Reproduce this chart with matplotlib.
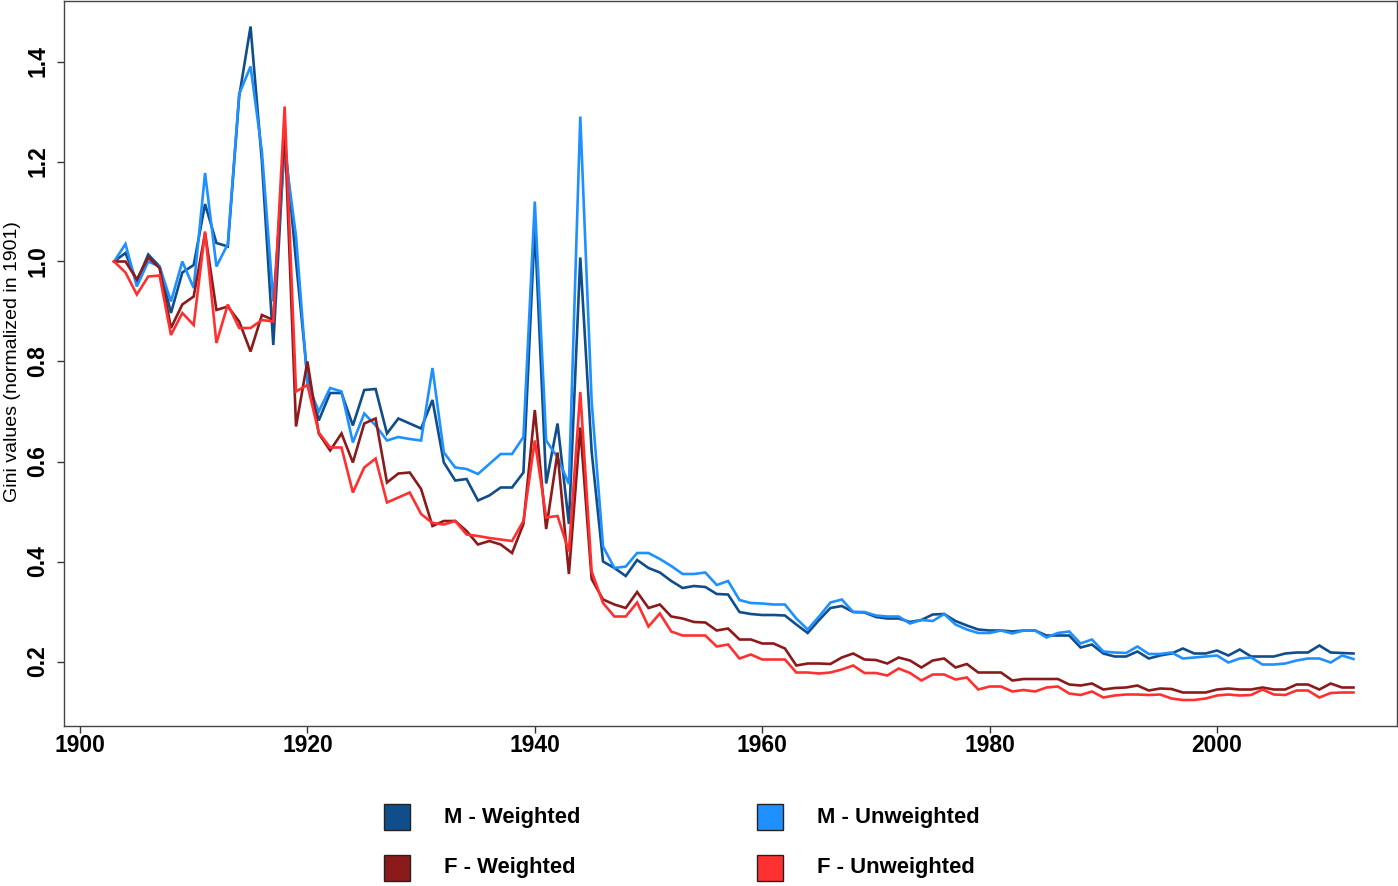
import numpy as np
import matplotlib
matplotlib.use("Agg")
import matplotlib.pyplot as plt
from matplotlib.patches import Rectangle

# ------------------------------------------------------------------ #
#  Data
# ------------------------------------------------------------------ #

years = list(range(1903, 2013))

m_weighted = [
    1.000, 1.017, 0.960, 1.014, 0.990, 0.897, 0.978, 0.993, 1.115, 1.037,   # 1903-1912
    1.030, 1.330, 1.470, 1.200, 0.833, 1.245, 1.000, 0.770, 0.682, 0.737,   # 1913-1922
    0.737, 0.672, 0.743, 0.745, 0.656, 0.686, 0.676, 0.666, 0.723, 0.598,   # 1923-1932
    0.562, 0.565, 0.522, 0.532, 0.548, 0.548, 0.578, 1.070, 0.556, 0.676,   # 1933-1942
    0.475, 1.008, 0.620, 0.400, 0.387, 0.371, 0.403, 0.387, 0.378, 0.361,   # 1943-1952
    0.347, 0.351, 0.349, 0.335, 0.334, 0.299, 0.295, 0.293, 0.293, 0.292,   # 1953-1962
    0.274, 0.257, 0.283, 0.307, 0.311, 0.299, 0.298, 0.289, 0.286, 0.286,   # 1963-1972
    0.279, 0.283, 0.294, 0.295, 0.281, 0.272, 0.264, 0.262, 0.262, 0.260,   # 1973-1982
    0.262, 0.262, 0.252, 0.252, 0.252, 0.228, 0.234, 0.216, 0.210, 0.210,   # 1983-1992
    0.220, 0.206, 0.212, 0.216, 0.226, 0.216, 0.216, 0.222, 0.212, 0.224,   # 1993-2002
    0.210, 0.210, 0.210, 0.216, 0.218, 0.218, 0.232, 0.218, 0.217, 0.216,   # 2003-2012
]

m_unweighted = [
    1.000, 1.035, 0.950, 1.000, 0.990, 0.920, 1.000, 0.947, 1.177, 0.990,
    1.035, 1.335, 1.390, 1.220, 0.920, 1.225, 1.050, 0.757, 0.700, 0.747,
    0.740, 0.638, 0.696, 0.672, 0.642, 0.649, 0.645, 0.642, 0.787, 0.618,
    0.588, 0.585, 0.575, 0.595, 0.615, 0.615, 0.649, 1.120, 0.642, 0.608,
    0.555, 1.290, 0.720, 0.430, 0.387, 0.390, 0.417, 0.417, 0.405, 0.391,
    0.375, 0.375, 0.378, 0.353, 0.361, 0.323, 0.317, 0.316, 0.314, 0.314,
    0.286, 0.264, 0.290, 0.318, 0.324, 0.299, 0.299, 0.292, 0.290, 0.290,
    0.276, 0.283, 0.281, 0.295, 0.274, 0.264, 0.257, 0.257, 0.262, 0.256,
    0.262, 0.262, 0.248, 0.257, 0.260, 0.236, 0.244, 0.220, 0.218, 0.217,
    0.230, 0.215, 0.215, 0.218, 0.206, 0.208, 0.210, 0.212, 0.198, 0.206,
    0.208, 0.194, 0.194, 0.196, 0.202, 0.206, 0.206, 0.198, 0.212, 0.205,
]

f_weighted = [
    1.000, 1.000, 0.964, 1.008, 0.987, 0.867, 0.914, 0.930, 1.057, 0.903,
    0.910, 0.880, 0.820, 0.893, 0.883, 1.270, 0.670, 0.800, 0.656, 0.622,
    0.656, 0.598, 0.676, 0.686, 0.558, 0.576, 0.578, 0.545, 0.471, 0.481,
    0.481, 0.461, 0.434, 0.441, 0.434, 0.417, 0.475, 0.703, 0.465, 0.618,
    0.375, 0.668, 0.365, 0.324, 0.314, 0.307, 0.339, 0.307, 0.314, 0.290,
    0.286, 0.279, 0.278, 0.262, 0.266, 0.244, 0.244, 0.236, 0.236, 0.226,
    0.192, 0.196, 0.196, 0.195, 0.208, 0.216, 0.204, 0.203, 0.196, 0.208,
    0.202, 0.188, 0.202, 0.206, 0.188, 0.195, 0.178, 0.178, 0.178, 0.162,
    0.165, 0.165, 0.165, 0.165, 0.154, 0.152, 0.156, 0.144, 0.147, 0.148,
    0.152, 0.142, 0.146, 0.145, 0.138, 0.138, 0.138, 0.144, 0.146, 0.144,
    0.144, 0.148, 0.144, 0.144, 0.154, 0.154, 0.144, 0.156, 0.148, 0.148,
]

f_unweighted = [
    1.000, 0.978, 0.934, 0.970, 0.972, 0.853, 0.897, 0.873, 1.060, 0.837,
    0.914, 0.867, 0.867, 0.883, 0.880, 1.310, 0.740, 0.753, 0.658, 0.628,
    0.628, 0.538, 0.588, 0.606, 0.518, 0.528, 0.538, 0.495, 0.477, 0.474,
    0.481, 0.454, 0.451, 0.447, 0.444, 0.441, 0.481, 0.642, 0.488, 0.491,
    0.420, 0.739, 0.380, 0.317, 0.290, 0.290, 0.318, 0.270, 0.296, 0.260,
    0.252, 0.252, 0.252, 0.230, 0.234, 0.206, 0.214, 0.204, 0.204, 0.204,
    0.178, 0.178, 0.176, 0.178, 0.184, 0.192, 0.177, 0.177, 0.172, 0.186,
    0.177, 0.162, 0.174, 0.174, 0.164, 0.168, 0.144, 0.150, 0.150, 0.140,
    0.143, 0.140, 0.148, 0.150, 0.136, 0.133, 0.140, 0.128, 0.132, 0.134,
    0.134, 0.133, 0.134, 0.126, 0.123, 0.123, 0.126, 0.132, 0.134, 0.132,
    0.133, 0.144, 0.134, 0.133, 0.142, 0.142, 0.128, 0.137, 0.138, 0.138,
]

series_labels = ["M - Weighted", "M - Unweighted", "F - Weighted", "F - Unweighted"]
series_colors = ["#104E8B", "#1E90FF", "#8B1A1A", "#FF3030"]

x_ticks = [1900, 1920, 1940, 1960, 1980, 2000]
y_ticks = [0.2, 0.4, 0.6, 0.8, 1.0, 1.2, 1.4]

# ------------------------------------------------------------------ #
#  Plot
# ------------------------------------------------------------------ #

W, H = 1398, 886
plt.rcParams["font.family"] = ["Liberation Sans", "DejaVu Sans"]

fig = plt.figure(figsize=(W / 100, H / 100), dpi=100)
ax = fig.add_axes([64.3 / W, 1 - 726 / H, (1397 - 64.3) / W, (726 - 1) / H])

for vals, col in zip([m_weighted, m_unweighted, f_weighted, f_unweighted], series_colors):
    ax.plot(years, vals, color=col, lw=1.9, solid_joinstyle="miter")

ax.set_xlim(1898.62, 2015.83)
ax.set_ylim(0.071, 1.521)

ax.set_xticks(x_ticks)
ax.set_xticklabels([str(t) for t in x_ticks], fontsize=16.5, fontweight="bold")
ax.set_yticks(y_ticks)
ax.set_yticklabels([f"{t:.1f}" for t in y_ticks], fontsize=16.5, fontweight="bold",
                   rotation=90, va="center")
ax.tick_params(axis="both", direction="out", length=5, width=1, color="#333333")
ax.tick_params(axis="x", pad=1)
ax.tick_params(axis="y", pad=6)

for sp in ax.spines.values():
    sp.set_color("#444444")
    sp.set_linewidth(1.0)

fig.text(13 / W, 1 - 362 / H, "Gini values (normalized in 1901)",
         rotation=90, ha="center", va="center", fontsize=14)

# --- legend: two columns of coloured squares + bold text --------------
box_x = [384, 757]
text_x = [444, 817]
row_y = [817, 868]
for i, (lab, col) in enumerate(zip(series_labels, series_colors)):
    cx, ry = i % 2, i // 2
    fig.patches.append(Rectangle(((box_x[cx]) / W, 1 - (row_y[ry] + 13) / H),
                                 26 / W, 26 / H, transform=fig.transFigure,
                                 facecolor=col, edgecolor="#222222", lw=1.0))
    fig.text(text_x[cx] / W, 1 - row_y[ry] / H, lab, ha="left", va="center",
             fontsize=15.8, fontweight="bold")

fig.savefig("out.png", dpi=100)
